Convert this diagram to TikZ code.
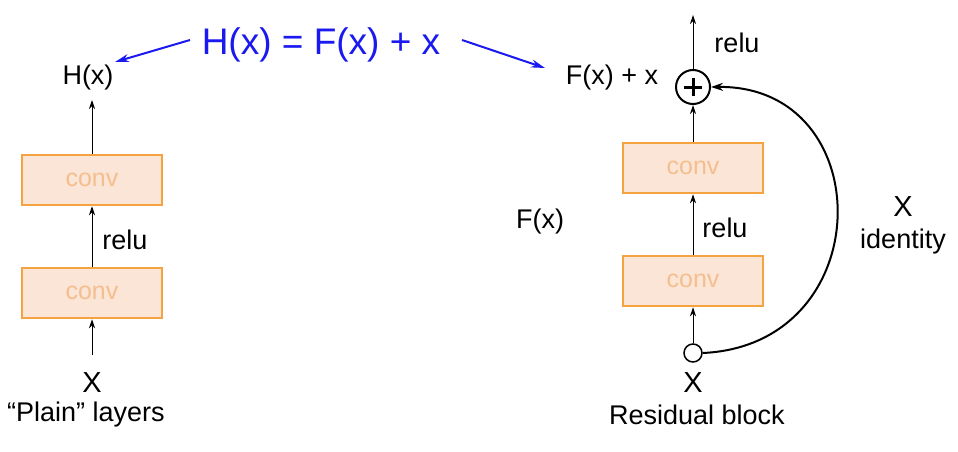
\documentclass[tikz,border=0pt]{standalone}
\usepackage{fontspec}
\setmainfont{Liberation Sans}
\usetikzlibrary{arrows.meta}
\definecolor{boxfill}{HTML}{FBE5D6}
\definecolor{boxline}{HTML}{F4A340}
\definecolor{convtxt}{HTML}{F5BE8E}
\definecolor{ttl}{HTML}{1A1AF0}
\begin{document}
\begin{tikzpicture}[x=1pt,y=-1pt,
  conv/.style={draw=boxline,fill=boxfill,line width=2.5pt,minimum width=140pt,minimum height=50pt,inner sep=0pt,text=convtxt,font=\fontsize{25}{25}\selectfont},
  lbl/.style={font=\fontsize{27}{27}\selectfont,inner sep=0pt},
  arr/.style={-{Stealth[length=9pt,width=6pt]},line width=1pt},
  barr/.style={-{Stealth[length=14pt,width=8pt]},line width=2pt,ttl}]
\useasboundingbox (0,0) rectangle (958,452);
% title
\node[font=\fontsize{37}{37}\selectfont,text=ttl,inner sep=0pt] (t) at (321,45) {H(x) = F(x) + x};
% left
\node[lbl] (hx) at (88,78) {H(x)};
\node[conv] (lb1) at (92,180) {conv};
\node[conv] (lb2) at (92,293) {conv};
\node[lbl] (lrelu) at (125,240) {relu};
\node[lbl,font=\fontsize{29}{29}\selectfont] (lx) at (92,383) {X};
\node[lbl] (plain) at (86,415) {“Plain” layers};
\coordinate (lin) at (92,355);
\draw[arr] (lb1.north) -- (92,100);
\draw[arr] (lb2.north) -- (lb1.south);
\draw[arr] (lin) -- (lb2.south);
\coordinate (ta) at (190,40); \coordinate (tb) at (462,40);
\draw[barr] (ta) -- (115,62);
\draw[barr] (tb) -- (545,68);
% right
\node[conv] (rb1) at (693,168) {conv};
\node[conv] (rb2) at (693,281) {conv};
\node[draw,circle,line width=2pt,minimum size=34pt,inner sep=0pt] (plus) at (693,87) {};
\draw[line width=3pt] (684,87) -- (702,87) (693,78) -- (693,96);
\node[draw,circle,line width=1.5pt,minimum size=18pt,inner sep=0pt,fill=white] (in) at (693,353) {};
\coordinate (out) at (693,15);
\node[lbl] (rrelu1) at (737,43) {relu};
\node[lbl] (fxx) at (612,78) {F(x) + x};
\node[lbl] (rrelu2) at (725,228) {relu};
\node[lbl] (fx) at (540,222) {F(x)};
\node[lbl,font=\fontsize{29}{29}\selectfont] (rx) at (693,383) {X};
\node[lbl] (res) at (697,415) {Residual block};
\node[lbl,font=\fontsize{29}{29}\selectfont] (ix) at (903,207) {X};
\node[lbl] (id) at (903,242) {identity};
\draw[arr] (plus.north) -- (out);
\draw[arr] (rb1.north) -- (plus.south);
\draw[arr] (rb2.north) -- (rb1.south);
\draw[arr] (in.north) -- (rb2.south);
\draw[-{Stealth[length=12pt,width=8pt]},line width=2pt] (in.east) .. controls (880,345) and (880,85) .. (plus.east);
\end{tikzpicture}
\end{document}
